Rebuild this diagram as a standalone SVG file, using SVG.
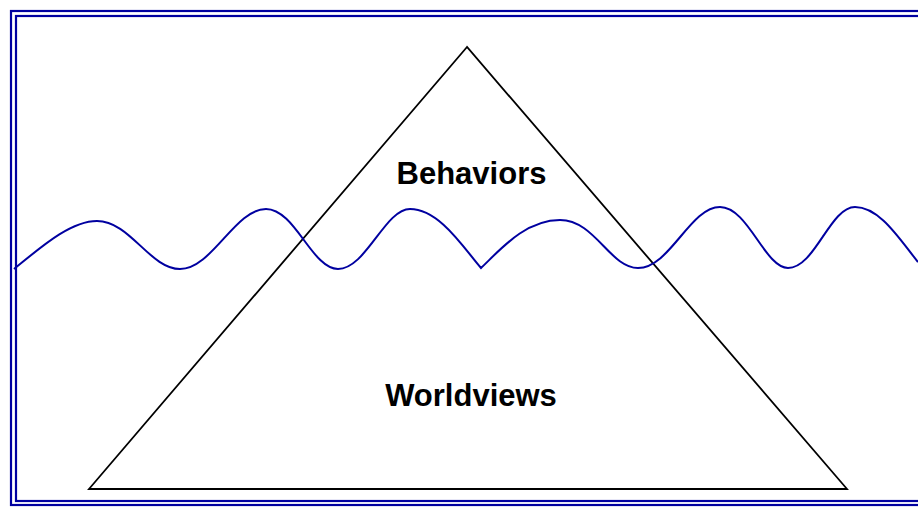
<svg xmlns="http://www.w3.org/2000/svg" width="918" height="508" viewBox="0 0 918 508">
<style>
.frame{fill:none;stroke:#0000a0;stroke-width:2.2}
.wave{fill:none;stroke:#0000a0;stroke-width:2}
.tri{fill:none;stroke:#000;stroke-width:1.8;stroke-linejoin:miter}
.lbl{font-family:"Liberation Sans",Arial,sans-serif;font-weight:bold;font-size:31px;fill:#000;text-anchor:middle}
</style>
<rect width="918" height="508" fill="#fff"/>
<g id="frame">
<rect class="frame" x="11" y="11" width="930" height="494"/>
<rect class="frame" x="16" y="16" width="920" height="485"/>
</g>
<g id="pyramid">
<polygon class="tri" points="467,47 89,489 847,489"/>
</g>
<g id="connectors">
<path class="wave" d="M14,269 C40,248 70,221 97,221 C130,221 150,269 180,269 C212,269 235,209 266,209 C295,209 312,269 338,269 C366,269 385,209 410,209 C440,209 465,250 481,268 C500,250 525,220 560,220 C595,220 610,268 638,268 C670,268 690,207 720,207 C748,207 765,268 788,268 C815,268 830,207 855,207 C880,207 900,240 918,262"/>
</g>
<g id="behaviors"><text class="lbl" x="471.5" y="184">Behaviors</text></g>
<g id="worldviews"><text class="lbl" x="471" y="406">Worldviews</text></g>
</svg>
